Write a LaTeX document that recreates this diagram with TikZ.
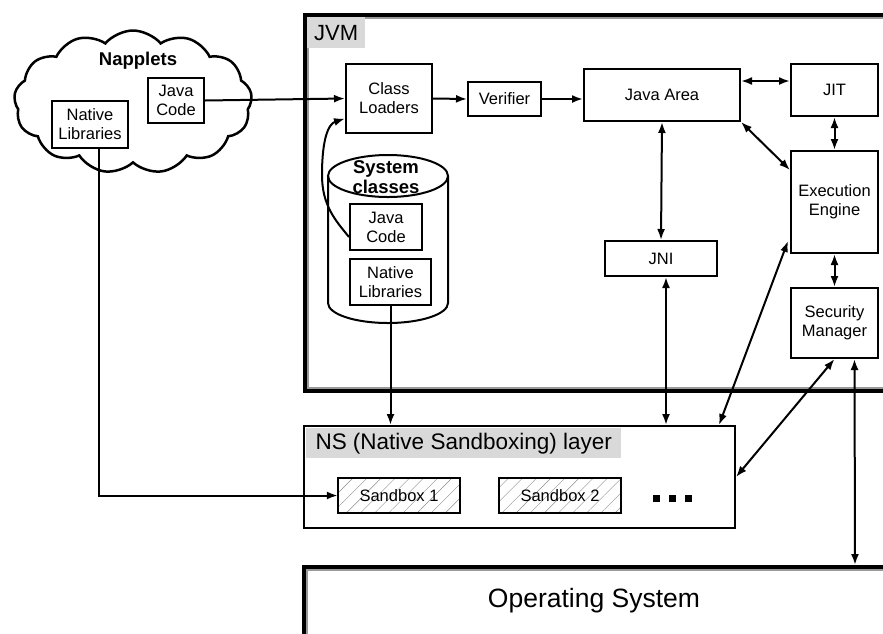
\documentclass[tikz,border=0pt]{standalone}
\usepackage{fontspec}
\setmainfont{Liberation Sans}
\usetikzlibrary{arrows.meta,shapes.symbols,patterns.meta}

\begin{document}
\begin{tikzpicture}[x=1pt,y=-1pt,
  box/.style={draw,line width=2pt,align=center,inner sep=0pt,
    font=\fontsize{16.5}{19}\selectfont},
  sandbox/.style={box,pattern={Lines[angle=45,distance=10pt,line width=0.4pt]},
    pattern color=black!45},
  label/.style={fill=black!15,inner xsep=7pt,anchor=north west},
  heavy/.style={font=\fontsize{18.5}{20}\selectfont\bfseries,align=center},
  ar/.style={line width=2pt,-{Latex[length=11pt,width=8pt]}},
  dar/.style={line width=2pt,{Latex[length=11pt,width=8pt]}-{Latex[length=11pt,width=8pt]}}]
\useasboundingbox (0,0) rectangle (883,633);
\clip (0,0) rectangle (883,633);

% frames
\draw[line width=3.5pt] (305,15) rectangle (900,391);
\draw[black!40,line width=2pt] (307.75,17.75) rectangle (900,388.25);
\draw[line width=3.5pt] (304,567) rectangle (900,660);
\draw[black!40,line width=2pt] (306.75,569.75) rectangle (900,660);
\node[label,minimum width=58,minimum height=31,font=\fontsize{22}{24}\selectfont] (jvm) at (307,17) {JVM};
\node[font=\fontsize{26.5}{28}\selectfont] (os) at (594,601) {Operating System};

% napplets
\node[cloud,draw,line width=2.5pt,cloud puffs=13,cloud puff arc=100,aspect=1.65,
  minimum width=238,minimum height=143] (cloud) at (133,102) {};
\node[heavy] (napplets) at (138,61) {Napplets};
\node[box,minimum width=76,minimum height=47] (nlib) at (90,124.5) {Native\\Libraries};
\node[box,minimum width=56,minimum height=45] (jcode) at (176,100.5) {Java\\Code};

% system classes
\draw[line width=2pt] (328,176) -- (328,303) arc[start angle=180,end angle=0,x radius=60,y radius=20] -- (448,176);
\draw[line width=2pt] (388,176) ellipse[x radius=60,y radius=21];
\node[heavy] (sysclass) at (386,177) {System\\classes};
\node[box,minimum width=72,minimum height=46] (sjcode) at (386,227) {Java\\Code};
\node[box,minimum width=81,minimum height=46] (snlib) at (390.5,282) {Native\\Libraries};

% jvm parts
\node[box,minimum width=86,minimum height=69] (loaders) at (389,98.5) {Class\\Loaders};
\node[box,minimum width=73,minimum height=34] (verifier) at (504.5,99) {Verifier};
\node[box,minimum width=156,minimum height=52] (javaarea) at (662,95) {Java Area};
\node[box,minimum width=87,minimum height=52] (jit) at (834.5,90) {JIT};
\node[box,minimum width=87,minimum height=102] (engine) at (834.5,202) {Execution\\Engine};
\node[box,minimum width=112,minimum height=35] (jni) at (661,258.5) {JNI};
\node[box,minimum width=87,minimum height=70] (security) at (834.5,323) {Security\\Manager};

% ns layer
\node[draw,line width=2pt,minimum width=431,minimum height=102] (ns) at (519.5,477) {};
\node[label,minimum width=315,minimum height=30,font=\fontsize{22.5}{24}\selectfont] (nslabel) at (306,428) {NS (Native Sandboxing) layer};
\node[sandbox,minimum width=122,minimum height=35] (sb1) at (399,495.5) {Sandbox 1};
\node[sandbox,minimum width=122,minimum height=35] (sb2) at (560,495.5) {Sandbox 2};
\foreach \x in {656,672,688}
  \fill (\x-3.5,495) rectangle (\x+3.5,501.5);
\coordinate (ostop) at (855,565);

% connectors
\draw[ar] (jcode.east) -- (loaders.west);
\draw[ar] (loaders.east) -- (verifier.west);
\draw[ar] (verifier.east) -- (verifier.east -| javaarea.west);
\draw[ar] ([yshift=-10]sjcode.west) .. controls (335,220) and (322,205) .. (322,175)
  .. controls (322,140) and (328,124) .. ([yshift=-20]loaders.west);
\draw[ar] (snlib.south) -- (snlib.south |- ns.north);
\draw[ar] ([xshift=9]nlib.south) |- (sb1.west);
\draw[dar] ([yshift=-13]javaarea.north east) -- ([yshift=-13]javaarea.north east -| jit.west);
\draw[dar] (javaarea.south east) -- ([yshift=-20]engine.north west);
\draw[dar] (jit.south) -- (engine.north);
\draw[dar] (engine.south) -- (security.north);
\draw[dar] (javaarea.south) -- (jni.north);
\draw[dar] ([xshift=5]jni.south) -- ([xshift=5]jni.south |- ns.north);
\draw[dar] ([xshift=-17]ns.north east) -- ([yshift=13,xshift=-2]engine.south west);
\draw[dar] (ns.east) -- (security.south);
\draw[dar] ([xshift=20]security.south) -- (ostop);
\end{tikzpicture}
\end{document}
